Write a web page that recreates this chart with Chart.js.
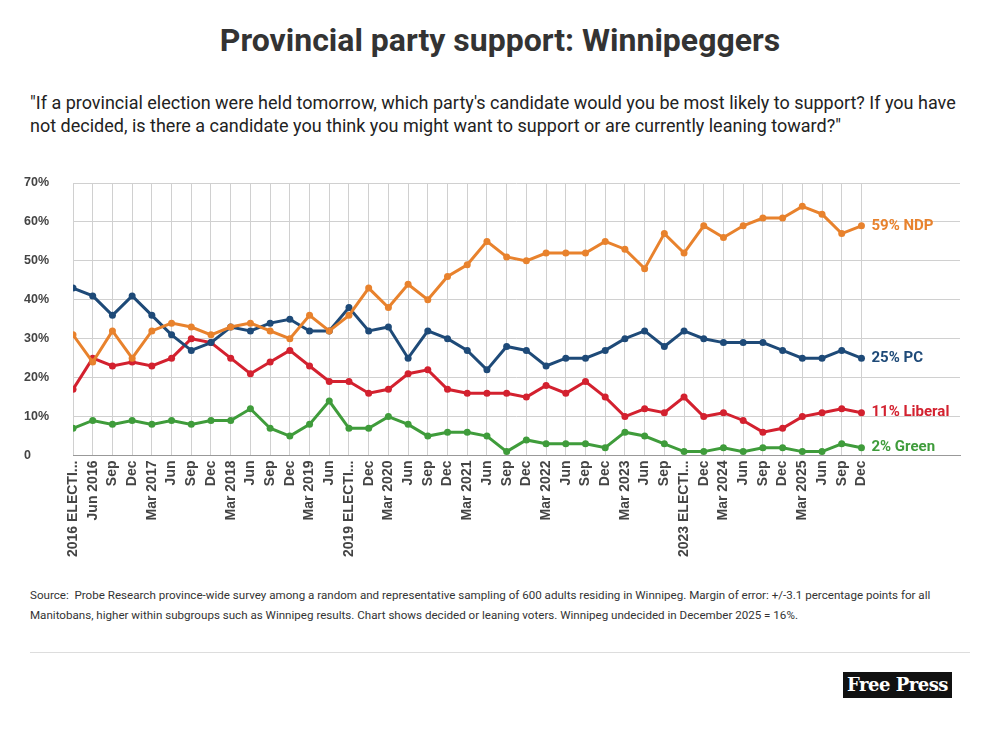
<!DOCTYPE html>
<html>
<head>
<meta charset="utf-8">
<script src="https://cdn.jsdelivr.net/npm/chart.js@4"></script>
<style>
  body { margin:0; width:1000px; height:732px; background:#fff; font-family: Roboto, sans-serif; position:relative; overflow:hidden; }
  h1 { position:absolute; top:21px; left:0; width:1000px; text-align:center; margin:0; font-size:32px; font-weight:700; color:#333; }
  .sub { position:absolute; top:91px; left:30px; width:945px; font-size:18px; line-height:23px; color:#222; }
  .src { position:absolute; top:585px; left:30px; width:945px; font-size:11.6px; line-height:20px; color:#333; }
  .rule { position:absolute; top:652px; left:30px; width:940px; border-top:1px solid #ddd; }
  .logo { position:absolute; top:672px; left:843px; width:109px; height:26px; background:#111; color:#fff; font-family:"DejaVu Serif", serif; font-weight:700; font-size:18px; line-height:26px; text-align:center; letter-spacing:-0.5px; }
  #wrap { position:absolute; left:0; top:160px; width:1000px; height:402px; }
</style>
</head>
<body>
<h1>Provincial party support: Winnipeggers</h1>
<div class="sub">"If a provincial election were held tomorrow, which party's candidate would you be most likely to support? If you have not decided, is there a candidate you think you might want to support or are currently leaning toward?"</div>
<div id="wrap"><canvas id="myChart"></canvas></div>
<div class="src">Source:&nbsp; Probe Research province-wide survey among a random and representative sampling of 600 adults residing in Winnipeg. Margin of error: +/-3.1 percentage points for all Manitobans, higher within subgroups such as Winnipeg results. Chart shows decided or leaning voters. Winnipeg undecided in December 2025 = 16%.</div>
<div class="rule"></div>
<div class="logo">Free Press</div>
<script>
const labels = ['2016 ELECTI...','Jun 2016','Sep','Dec','Mar 2017','Jun','Sep','Dec','Mar 2018','Jun','Sep','Dec','Mar 2019','Jun','2019 ELECTI...','Dec','Mar 2020','Jun','Sep','Dec','Mar 2021','Jun','Sep','Dec','Mar 2022','Jun','Sep','Dec','Mar 2023','Jun','Sep','2023 ELECTI...','Dec','Mar 2024','Jun','Sep','Dec','Mar 2025','Jun','Sep','Dec'];
const ndp = [31,24,32,25,32,34,33,31,33,34,32,30,36,32,36,43,38,44,40,46,49,55,51,50,52,52,52,55,53,48,57,52,59,56,59,61,61,64,62,57,59];
const pc = [43,41,36,41,36,31,27,29,33,32,34,35,32,32,38,32,33,25,32,30,27,22,28,27,23,25,25,27,30,32,28,32,30,29,29,29,27,25,25,27,25];
const liberal = [17,25,23,24,23,25,30,29,25,21,24,27,23,19,19,16,17,21,22,17,16,16,16,15,18,16,19,15,10,12,11,15,10,11,9,6,7,10,11,12,11];
const green = [7,9,8,9,8,9,8,9,9,12,7,5,8,14,7,7,10,8,5,6,6,5,1,4,3,3,3,2,6,5,3,1,1,2,1,2,2,1,1,3,2];
const yTicks = ['0','10%','20%','30%','40%','50%','60%','70%'];
const endLabels = ['59% NDP','25% PC','11% Liberal','2% Green'];

function series(vals, color, name, i) {
  return {
    label: name,
    data: vals.map((v, k) => ({x: k, y: v})),
    borderColor: color, backgroundColor: color,
    borderWidth: 3, pointRadius: 3.5, pointBorderWidth: 0,
    endLabel: endLabels[i], tension: 0
  };
}

const endLabelPlugin = {
  id: 'endLabels',
  afterDatasetsDraw(chart) {
    const ctx = chart.ctx;
    ctx.save();
    ctx.font = 'bold 15px Roboto, sans-serif';
    ctx.textBaseline = 'middle';
    chart.data.datasets.forEach((ds, i) => {
      const pts = chart.getDatasetMeta(i).data;
      const p = pts[pts.length - 1];
      ctx.fillStyle = ds.borderColor;
      ctx.fillText(ds.endLabel, p.x + 10, p.y);
    });
    ctx.restore();
  }
};

const last = labels.length - 1;
new Chart(document.getElementById('myChart'), {
  type: 'line',
  data: { datasets: [
    series(ndp, '#e8822d', 'NDP', 0),
    series(pc, '#1e4a78', 'PC', 1),
    series(liberal, '#d3212f', 'Liberal', 2),
    series(green, '#3f9c3b', 'Green', 3)
  ]},
  options: {
    responsive: true, maintainAspectRatio: false, animation: false,
    layout: { padding: { left: 24, right: 40, top: 23 } },
    plugins: { legend: { display: false }, tooltip: { enabled: false } },
    scales: {
      x: {
        type: 'linear', min: 0, max: 45,
        grid: { color: c => c.tick && c.tick.value <= last ? '#d0d0d0' : 'rgba(0,0,0,0)', drawTicks: false },
        border: { color: '#999' },
        ticks: {
          stepSize: 1, autoSkip: false, maxRotation: 90, minRotation: 90, padding: 5,
          font: { family: 'Liberation Sans', weight: 'bold', size: 14 }, color: '#444',
          callback: v => v <= last ? labels[v] : ''
        }
      },
      y: {
        min: 0, max: 70,
        grid: { color: '#d0d0d0', drawTicks: false },
        border: { display: false },
        ticks: {
          stepSize: 10, crossAlign: 'far', padding: 12,
          font: { family: 'Liberation Sans', weight: 'bold', size: 12.5 }, color: '#444',
          callback: v => yTicks[v / 10]
        }
      }
    }
  },
  plugins: [endLabelPlugin]
});
</script>
</body>
</html>
